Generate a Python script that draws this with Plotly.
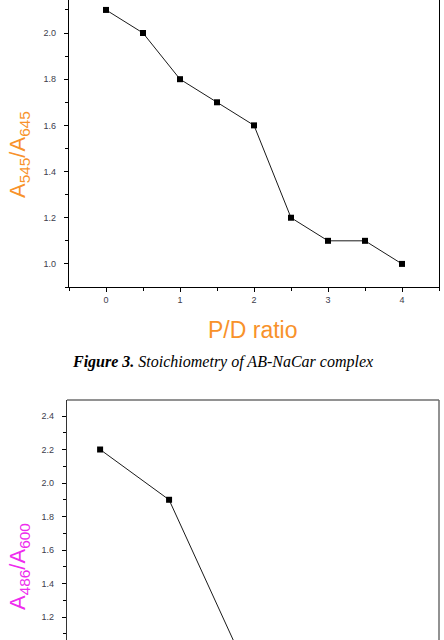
import plotly.graph_objects as go

# ---- data ----
pd_ratio_top = [0, 0.5, 1.0, 1.5, 2.0, 2.5, 3.0, 3.5, 4.0]
ratio_545_645 = [2.1, 2.0, 1.8, 1.7, 1.6, 1.2, 1.1, 1.1, 1.0]

pd_ratio_bottom = [0, 0.5, 1.0]
ratio_486_600 = [2.2, 1.9, 1.0]

x_tick_labels_top = ["0", "1", "2", "3", "4"]

caption = "<b><i>Figure 3.</i></b><i> Stoichiometry of AB-NaCar complex</i>"

W, H = 444, 640
ORANGE = "#F8922A"
MAGENTA = "#EE2BEE"
TICKCOL = "#3c3c4c"
TICKFONT = dict(family="Liberation Sans, Arial, sans-serif", size=9, color=TICKCOL)

fig = go.Figure()

fig.add_trace(go.Scatter(
    x=pd_ratio_top, y=ratio_545_645, mode="lines+markers",
    line=dict(color="#1a1a1a", width=1),
    marker=dict(symbol="square", size=6, color="black"),
    xaxis="x", yaxis="y", showlegend=False, cliponaxis=False))

fig.add_trace(go.Scatter(
    x=pd_ratio_bottom, y=ratio_486_600, mode="lines+markers",
    line=dict(color="#1a1a1a", width=1),
    marker=dict(symbol="square", size=6, color="black"),
    xaxis="x2", yaxis="y2", showlegend=False))

fig.update_layout(
    width=W, height=H, autosize=False,
    margin=dict(l=0, r=0, t=0, b=0),
    paper_bgcolor="white", plot_bgcolor="white",
    xaxis=dict(
        domain=[69 / W, 439 / W], range=[-0.5, 4.5], anchor="y",
        tickmode="array", tickvals=[0, 1, 2, 3, 4], ticktext=x_tick_labels_top,
        ticks="outside", ticklen=4, tickcolor="black", tickwidth=1,
        minor=dict(tickmode="array", tickvals=[0.5, 1.5, 2.5, 3.5, 4.5, -0.5],
                   ticks="outside", ticklen=3, tickcolor="black"),
        showline=True, linecolor="black", linewidth=1.3,
        showgrid=False, zeroline=False, tickfont=TICKFONT),
    yaxis=dict(
        domain=[1 - 287 / H, 1], range=[0.9, 2.143], anchor="x",
        dtick=0.2, tick0=0, tickformat=".1f",
        ticks="outside", ticklen=4, tickcolor="black", tickwidth=1,
        minor=dict(dtick=0.1, tick0=0, ticks="outside", ticklen=3, tickcolor="black"),
        showline=True, mirror=True, linecolor="black", linewidth=1.3,
        showgrid=False, zeroline=False, tickfont=TICKFONT, ticklabelstandoff=6),
    xaxis2=dict(
        domain=[67 / W, 439 / W], range=[-0.24, 2.457], anchor="y2",
        showticklabels=False, ticks="", showline=False,
        showgrid=False, zeroline=False),
    yaxis2=dict(
        domain=[0, 1 - 400 / H], range=[1.063, 2.4955], anchor="x2",
        dtick=0.2, tick0=0, tickformat=".1f",
        ticks="outside", ticklen=4, tickcolor="black", tickwidth=1,
        minor=dict(dtick=0.1, tick0=0, ticks="outside", ticklen=3, tickcolor="black"),
        showline=True, linecolor="#333333", linewidth=1.3,
        showgrid=False, zeroline=False, tickfont=TICKFONT, ticklabelstandoff=6),
    shapes=[
        dict(type="line", xref="paper", yref="paper",
             x0=67 / W, x1=439 / W, y0=1 - 400 / H, y1=1 - 400 / H,
             line=dict(color="#6e6e6e", width=1.5)),
        dict(type="line", xref="paper", yref="paper",
             x0=439 / W, x1=439 / W, y0=0, y1=1 - 400 / H,
             line=dict(color="#6e6e6e", width=1.5)),
    ],
    annotations=[
        dict(text="A<sub>545</sub>/A<sub>645</sub>", xref="paper", yref="paper",
             x=19 / W, y=1 - 155 / H, textangle=-90, showarrow=False,
             xanchor="center", yanchor="middle",
             font=dict(family="Liberation Sans, Arial, sans-serif", size=22, color=ORANGE)),
        dict(text="P/D ratio", xref="paper", yref="paper",
             x=252 / W, y=1 - 330 / H, showarrow=False,
             xanchor="center", yanchor="middle",
             font=dict(family="Liberation Sans, Arial, sans-serif", size=23, color=ORANGE)),
        dict(text=caption, xref="paper", yref="paper",
             x=222.5 / W, y=1 - 362 / H, showarrow=False,
             xanchor="center", yanchor="middle",
             font=dict(family="Liberation Serif, Times New Roman, serif", size=16, color="black")),
        dict(text="A<sub>486</sub>/A<sub>600</sub>", xref="paper", yref="paper",
             x=19 / W, y=1 - 567 / H, textangle=-90, showarrow=False,
             xanchor="center", yanchor="middle",
             font=dict(family="Liberation Sans, Arial, sans-serif", size=22, color=MAGENTA)),
    ],
)

fig.write_html("out.html")
